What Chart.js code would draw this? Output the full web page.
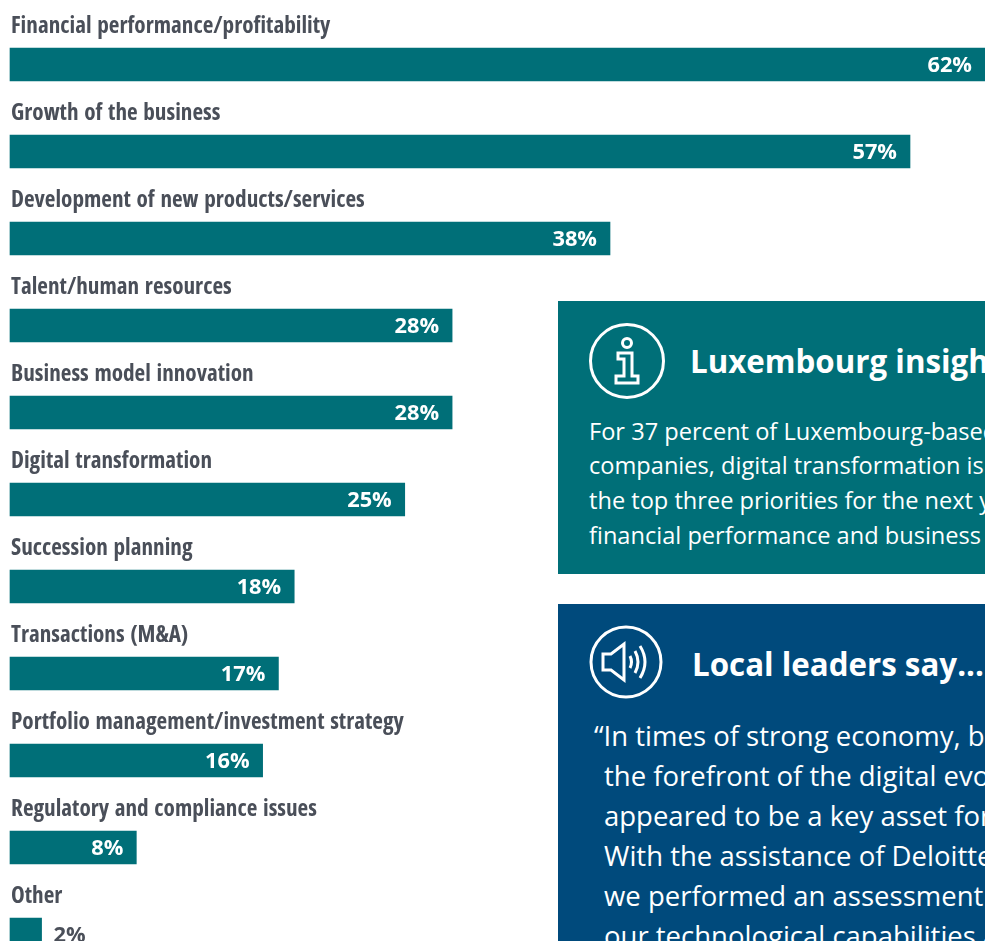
<!DOCTYPE html>
<html>
<head>
<meta charset="utf-8">
<title>Priorities</title>
<script src="https://cdn.jsdelivr.net/npm/chart.js@4"></script>
<style>
  html, body { margin: 0; padding: 0; background: #fff; width: 985px; height: 941px; overflow: hidden; }
  #wrap { position: absolute; left: 0; top: 0; width: 985px; height: 978px; }
  .box { position: absolute; left: 558px; width: 427px; overflow: hidden; color: #fff; font-family: "Open Sans", sans-serif; }
  #teal { top: 301px; height: 273px; background: #006f78; }
  #blue { top: 604px; height: 337px; background: #004a7c; }
  .box svg { position: absolute; fill: none; stroke: #fff; }
  .head { position: absolute; font-weight: 700; white-space: nowrap; font-size: 31.3px; line-height: 40px; }
  .line { position: absolute; white-space: nowrap; }
  #teal .line { left: 31px; font-size: 23.6px; line-height: 35px; }
  #blue .line { left: 46px; font-size: 27.5px; line-height: 40px; }
</style>
</head>
<body>
<div id="wrap"><canvas id="chart" width="985" height="978"></canvas></div>

<div class="box" id="teal">
  <svg style="left:30px;top:21px" width="78" height="78" viewBox="0 0 78 78" stroke-width="3">
    <circle cx="39" cy="39" r="36.5"/>
    <circle cx="39" cy="21" r="4.5"/>
    <path d="M30 31 H44 V54 H50 V61 H28 V54 H36 V37 H30 Z"/>
  </svg>
  <div class="head" style="left:132px;top:40px">Luxembourg insights</div>
  <div class="line" style="top:113px">For 37 percent of Luxembourg-based</div>
  <div class="line" style="top:147px">companies, digital transformation is one of</div>
  <div class="line" style="top:182px">the top three priorities for the next year, after</div>
  <div class="line" style="top:217px">financial performance and business growth.</div>
</div>

<div class="box" id="blue">
  <svg style="left:31px;top:21px" width="74" height="74" viewBox="0 0 74 74" stroke-width="3">
    <circle cx="37" cy="37" r="35"/>
    <path d="M14 29 H22 L35 19 V55 L22 45 H14 Z"/>
    <path d="M41 31 Q44 37 41 43"/>
    <path d="M46 26 Q52 37 46 48"/>
    <path d="M51 21 Q61 37 51 53"/>
  </svg>
  <div class="head" style="left:134px;top:40px">Local leaders say...</div>
  <div class="line" style="left:36px;top:112px">“In times of strong economy, being at</div>
  <div class="line" style="top:152px">the forefront of the digital evolution</div>
  <div class="line" style="top:192px">appeared to be a key asset for our firm.</div>
  <div class="line" style="top:232px">With the assistance of Deloitte,</div>
  <div class="line" style="top:272px">we performed an assessment of</div>
  <div class="line" style="top:312px">our technological capabilities and</div>
</div>

<script>
const categories = [
  'Financial performance/profitability',
  'Growth of the business',
  'Development of new products/services',
  'Talent/human resources',
  'Business model innovation',
  'Digital transformation',
  'Succession planning',
  'Transactions (M&A)',
  'Portfolio management/investment strategy',
  'Regulatory and compliance issues',
  'Other'
];
const values = [62, 57, 38, 28, 28, 25, 18, 17, 16, 8, 2];

// category name above each bar, value inside the bar end (outside when it does not fit)
const barText = {
  id: 'barText',
  afterDatasetsDraw(chart) {
    const ctx = chart.ctx;
    const bars = chart.getDatasetMeta(0).data;
    ctx.save();
    bars.forEach((bar, i) => {
      const top = bar.y - bar.height / 2;
      ctx.font = '700 23.2px "Open Sans"';
      ctx.fontStretch = 'condensed';
      ctx.wordSpacing = '1.5px';
      ctx.textAlign = 'left';
      ctx.textBaseline = 'middle';
      ctx.fillStyle = '#4a4f59';
      ctx.fillText(categories[i], 11, top - 22);

      ctx.fontStretch = 'normal';
      ctx.wordSpacing = '0px';
      ctx.font = '700 21.8px "Open Sans"';
      const label = values[i] + '%';
      if (bar.x - chart.chartArea.left < 60) {
        ctx.fillStyle = '#4a4f59';
        ctx.fillText(label, bar.x + 12, bar.y + 1);
      } else {
        ctx.fillStyle = '#fff';
        ctx.textAlign = 'right';
        ctx.fillText(label, Math.min(bar.x, chart.width) - 13, bar.y + 1);
      }
    });
    ctx.restore();
  }
};

new Chart(document.getElementById('chart').getContext('2d'), {
  type: 'bar',
  data: {
    labels: categories,
    datasets: [{
      data: values,
      backgroundColor: '#006f78',
      barThickness: 33,
      clip: false
    }]
  },
  options: {
    indexAxis: 'y',
    responsive: false,
    animation: false,
    layout: { padding: { left: 10, top: 21 } },
    plugins: { legend: { display: false }, tooltip: { enabled: false } },
    scales: {
      x: { display: false, min: 0, max: 61.75 },
      y: { display: false }
    }
  },
  plugins: [barText]
});
</script>
</body>
</html>
